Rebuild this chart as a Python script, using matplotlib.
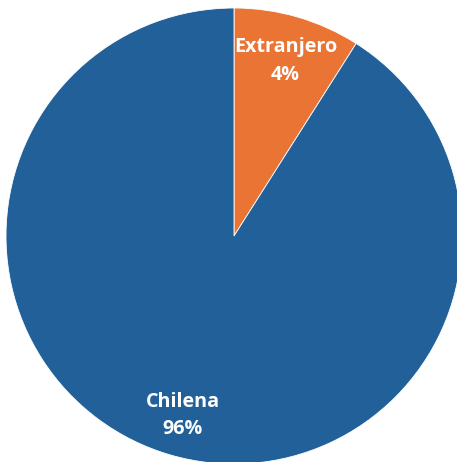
import matplotlib
matplotlib.use("Agg")
import matplotlib.pyplot as plt
import numpy as np

# slice shares as drawn in the picture, and the printed labels
categories = ["Extranjero", "Chilena"]
shares = [9.0, 91.0]
pct_labels = ["4%", "96%"]
colors = ["#E97434", "#22609A"]

W, H = 457, 462
fig = plt.figure(figsize=(W / 100, H / 100), dpi=100, facecolor="white")
cx, cy, r = 234, 236, 228
ax = fig.add_axes([(cx - r) / W, (H - cy - r) / H, 2 * r / W, 2 * r / H])

wedges, _ = ax.pie(shares, colors=colors, startangle=90, counterclock=False,
                   radius=1.0, wedgeprops={"edgecolor": "white", "linewidth": 0.6})
ax.set_xlim(-1, 1); ax.set_ylim(-1, 1)
ax.set_aspect("equal")
ax.axis("off")
for w in wedges:
    w.set_clip_on(False)

# labels near 0.8r along each slice's middle
start = 90.0
for cat, s, lab in zip(categories, shares, pct_labels):
    mid = start - s / 100 * 360 / 2
    start -= s / 100 * 360
    d = 0.81
    x = d * np.cos(np.radians(mid))
    y = d * np.sin(np.radians(mid)) - 0.01
    ax.text(x, y, f"{cat}\n{lab}", ha="center", va="center", color="white",
            fontsize=14.2, fontweight="bold", family=["Open Sans", "DejaVu Sans"],
            linespacing=1.5)

fig.savefig("out.png", dpi=100, facecolor="white")
